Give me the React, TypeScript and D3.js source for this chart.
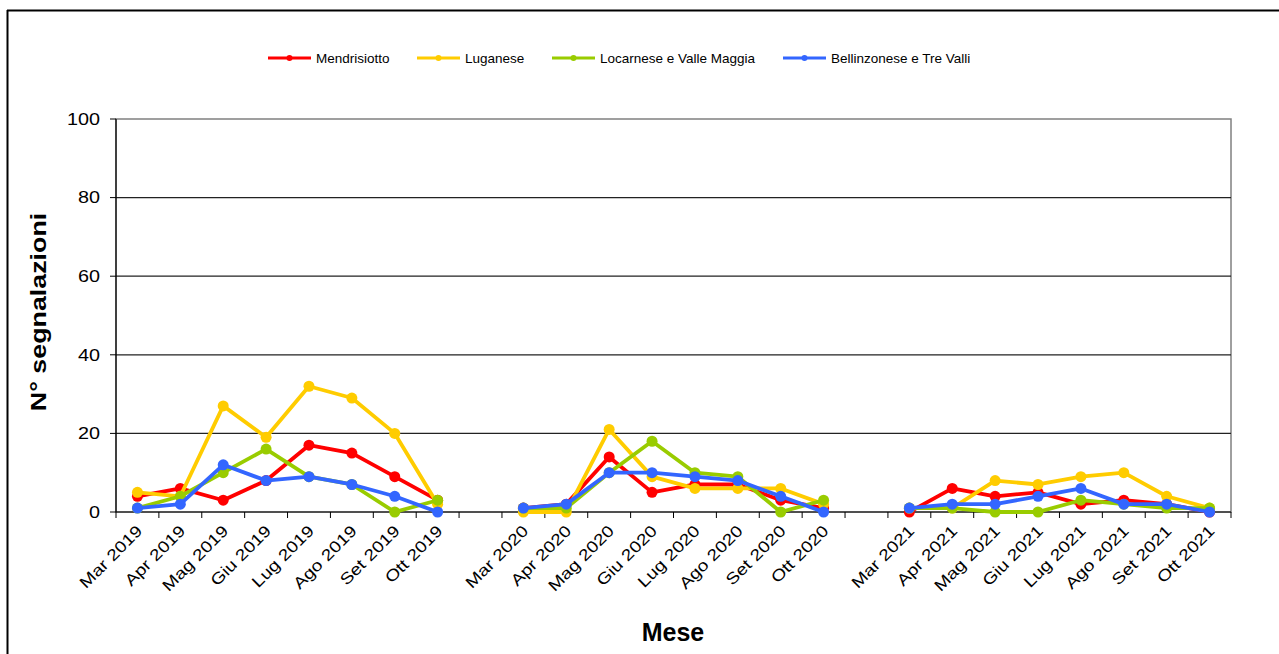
import React from "react";
import * as d3 from "d3";

const categories: string[] = [
  "Mar 2019", "Apr 2019", "Mag 2019", "Giu 2019", "Lug 2019", "Ago 2019", "Set 2019", "Ott 2019",
  "",
  "Mar 2020", "Apr 2020", "Mag 2020", "Giu 2020", "Lug 2020", "Ago 2020", "Set 2020", "Ott 2020",
  " ",
  "Mar 2021", "Apr 2021", "Mag 2021", "Giu 2021", "Lug 2021", "Ago 2021", "Set 2021", "Ott 2021",
];

const mendrisiotto: (number | null)[] = [
  4, 6, 3, 8, 17, 15, 9, 3, null,
  1, 2, 14, 5, 7, 7, 3, 1, null,
  0, 6, 4, 5, 2, 3, 2, 0,
];
const luganese: (number | null)[] = [
  5, 4, 27, 19, 32, 29, 20, 2, null,
  0, 0, 21, 9, 6, 6, 6, 2, null,
  1, 1, 8, 7, 9, 10, 4, 1,
];
const locarnese: (number | null)[] = [
  1, 4, 10, 16, 9, 7, 0, 3, null,
  1, 1, 10, 18, 10, 9, 0, 3, null,
  1, 1, 0, 0, 3, 2, 1, 1,
];
const bellinzonese: (number | null)[] = [
  1, 2, 12, 8, 9, 7, 4, 0, null,
  1, 2, 10, 10, 9, 8, 4, 0, null,
  1, 2, 2, 4, 6, 2, 2, 0,
];

const seriesNames = ["Mendrisiotto", "Luganese", "Locarnese e Valle Maggia", "Bellinzonese e Tre Valli"];
const seriesColors = ["#FF0000", "#FFCC00", "#99CC00", "#3366FF"];
const seriesValues = [mendrisiotto, luganese, locarnese, bellinzonese];
const yTicks = [0, 20, 40, 60, 80, 100];
const legendX = [268, 417, 552, 783];

const W = 1279;
const H = 654;
const plot = { left: 116, right: 1231, top: 119, bottom: 512 };
const FONT = "Arial, 'Liberation Sans', sans-serif";

export default function App() {
  const x = d3
    .scaleBand<number>()
    .domain(categories.map((_, i) => i))
    .range([plot.left, plot.right])
    .paddingInner(0)
    .paddingOuter(0);
  const y = d3.scaleLinear().domain([0, 100]).range([plot.bottom, plot.top]);
  const bw = x.bandwidth();
  const cx = (i: number) => (x(i) as number) + bw / 2;

  const line = d3
    .line<number | null>()
    .defined((d) => d !== null)
    .x((_, i) => cx(i))
    .y((d) => y(d as number));

  const boundaries = d3.range(categories.length + 1).map((i) => plot.left + i * bw);
  const legendY = 58;

  return (
    <svg
      width={W}
      height={H}
      style={{ position: "absolute", left: 0, top: 0, background: "#fff" }}
      fontFamily={FONT}
    >
      <rect x={0} y={0} width={W} height={H} fill="#fff" />
      {/* outer frame */}
      <line x1={7.5} y1={10} x2={7.5} y2={H} stroke="#000" strokeWidth={2} />
      <line x1={7} y1={10.5} x2={W} y2={10.5} stroke="#000" strokeWidth={2} />

      {/* plot border */}
      <rect
        x={plot.left}
        y={plot.top}
        width={plot.right - plot.left}
        height={plot.bottom - plot.top}
        fill="none"
        stroke="#808080"
        strokeWidth={1.5}
      />
      {/* gridlines */}
      {yTicks
        .filter((t) => t !== 0 && t !== 100)
        .map((t) => (
          <line key={t} x1={plot.left} x2={plot.right} y1={y(t)} y2={y(t)} stroke="#222" strokeWidth={1.2} />
        ))}
      {/* y axis */}
      <line x1={plot.left} x2={plot.left} y1={plot.top} y2={plot.bottom} stroke="#000" strokeWidth={1.2} />
      {yTicks.map((t) => (
        <g key={t}>
          <line x1={plot.left - 6} x2={plot.left} y1={y(t)} y2={y(t)} stroke="#000" strokeWidth={1} />
          <text
            transform={`translate(${plot.left - 16},${y(t)}) scale(1.2,1)`}
            dy="0.35em"
            textAnchor="end"
            fontSize={16.5}
            fill="#000"
          >
            {t}
          </text>
        </g>
      ))}
      {/* x axis */}
      <line x1={plot.left} x2={plot.right} y1={plot.bottom} y2={plot.bottom} stroke="#000" strokeWidth={1.2} />
      {boundaries.map((b, i) => (
        <line key={i} x1={b} x2={b} y1={plot.bottom} y2={plot.bottom + 6} stroke="#000" strokeWidth={1} />
      ))}
      {categories.map((c, i) =>
        c.trim() === "" ? null : (
          <text
            key={i}
            transform={`translate(${cx(i) + 2},${plot.bottom + 16}) rotate(-45) scale(1.2,1)`}
            textAnchor="end"
            dy="0.35em"
            fontSize={16}
            fill="#000"
          >
            {c}
          </text>
        )
      )}

      {/* series */}
      {seriesValues.map((vals, s) => (
        <g key={s}>
          <path d={line(vals) || ""} fill="none" stroke={seriesColors[s]} strokeWidth={3.8} strokeLinejoin="round" />
          {vals.map((v, i) =>
            v === null ? null : <circle key={i} cx={cx(i)} cy={y(v)} r={5.5} fill={seriesColors[s]} />
          )}
        </g>
      ))}

      {/* axis titles */}
      <text
        transform={`translate(38,312) rotate(-90) scale(1.22,1)`}
        textAnchor="middle"
        dy="0.35em"
        fontSize={22}
        fontWeight="bold"
        fill="#000"
      >
        N° segnalazioni
      </text>
      <text x={673} y={632} textAnchor="middle" dy="0.35em" fontSize={25} fontWeight="bold" fill="#000">
        Mese
      </text>

      {/* legend */}
      {seriesNames.map((n, s) => (
        <g key={s}>
          <line x1={legendX[s]} x2={legendX[s] + 43} y1={legendY} y2={legendY} stroke={seriesColors[s]} strokeWidth={3} />
          <circle cx={legendX[s] + 21.5} cy={legendY} r={3} fill={seriesColors[s]} />
          <text x={legendX[s] + 48} y={legendY} dy="0.35em" fontSize={13.5} fill="#000">
            {n}
          </text>
        </g>
      ))}
    </svg>
  );
}
